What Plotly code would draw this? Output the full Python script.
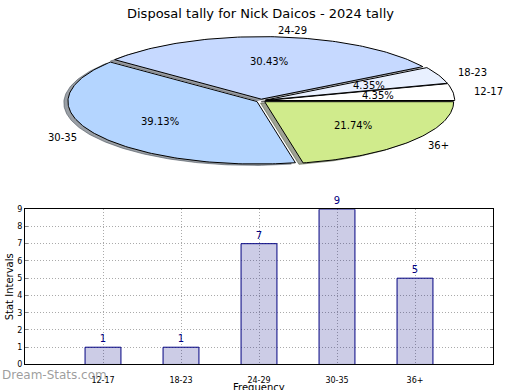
import numpy as np
import plotly.graph_objects as go

# ---- data ----
categories = ["12-17", "18-23", "24-29", "30-35", "36+"]
counts = [1, 1, 7, 9, 5]
title_text = "Disposal tally for Nick Daicos - 2024 tally"
y_title = "Stat Intervals"
x_title = "Frequency"
watermark = "Dream-Stats.com"

# ---- style ----
slice_colors = [(255, 255, 255), (232, 240, 255), (198, 217, 255), (180, 213, 255), (208, 235, 140)]
EXPLODE = 0.025
SHADOW_DX, SHADOW_DY = -0.022, -0.022
FONT = "DejaVu Sans"
W, H = 520, 390

fig = go.Figure()

total = float(sum(counts))
edges = np.cumsum([0] + counts) / total * 2 * np.pi
annotations = []
shadow_traces, wedge_traces = [], []
for i, (lab, v) in enumerate(zip(categories, counts)):
    t1, t2 = edges[i], edges[i + 1]
    m = 0.5 * (t1 + t2)
    cx, cy = EXPLODE * np.cos(m), EXPLODE * np.sin(m)
    n = max(int((t2 - t1) / (2 * np.pi) * 360), 12)
    t = np.linspace(t1, t2, n)
    xs = np.concatenate([[cx], cx + np.cos(t), [cx]])
    ys = np.concatenate([[cy], cy + np.sin(t), [cy]])
    r, g, b = slice_colors[i]
    sc = "rgba(%d,%d,%d,0.5)" % (int(0.3 * r), int(0.3 * g), int(0.3 * b))
    shadow_traces.append(go.Scatter(x=xs + SHADOW_DX, y=ys + SHADOW_DY, mode="lines", fill="toself",
                                    fillcolor=sc, line=dict(color=sc, width=1),
                                    hoverinfo="skip", showlegend=False, xaxis="x", yaxis="y"))
    wedge_traces.append(go.Scatter(x=xs, y=ys, mode="lines", fill="toself",
                                   fillcolor="rgb(%d,%d,%d)" % (r, g, b),
                                   line=dict(color="black", width=1),
                                   name=lab, showlegend=False, xaxis="x", yaxis="y"))
    annotations.append(dict(x=cx + 0.6 * np.cos(m), y=cy + 0.6 * np.sin(m), xref="x", yref="y",
                            text="%.2f%%" % (100 * v / total), showarrow=False,
                            font=dict(family=FONT, size=10, color="black"),
                            xanchor="center", yanchor="middle"))
    lx, ly = cx + 1.1 * np.cos(m), cy + 1.1 * np.sin(m)
    annotations.append(dict(x=lx, y=ly, xref="x", yref="y", text=lab, showarrow=False,
                            font=dict(family=FONT, size=10, color="black"),
                            xanchor="left" if lx > 0 else "right", yanchor="middle"))

for tr in shadow_traces + wedge_traces:
    fig.add_trace(tr)

# ---- bar chart ----
fig.add_trace(go.Bar(x=categories, y=counts, xaxis="x2", yaxis="y2", width=0.46,
                     marker=dict(color="rgba(0,0,128,0.2)", line=dict(color="#000080", width=1)),
                     text=[str(c) for c in counts], textposition="outside",
                     textfont=dict(family=FONT, size=10, color="#000080"),
                     cliponaxis=False, showlegend=False))

RX, RY = 189.0, 64.0
CX, CY = 261.0, 99.0
pie_top, pie_bot = 0.0, 195.0
bx0, bx1, by0, by1 = 25.0, 493.0, 210.0, 369.0

annotations += [
    dict(x=0.5, y=1 - 10 / H, xref="paper", yref="paper", text=title_text, showarrow=False,
         font=dict(family=FONT, size=13, color="black"), xanchor="center", yanchor="middle"),
    dict(x=9 / W, y=1 - 290 / H, xref="paper", yref="paper", text=y_title, showarrow=False,
         textangle=-90, font=dict(family=FONT, size=10, color="black"), xanchor="center", yanchor="middle"),
    dict(x=259 / W, y=1 - 385 / H, xref="paper", yref="paper", text=x_title, showarrow=False,
         font=dict(family=FONT, size=10, color="black"), xanchor="center", yanchor="top"),
    dict(x=0, y=1 - 380 / H, xref="paper", yref="paper", text=watermark, showarrow=False,
         font=dict(family=FONT, size=12, color="rgba(140,140,140,0.85)"), xanchor="left", yanchor="middle"),
]

GRID = dict(showgrid=True, gridcolor="#aaaaaa", griddash="1px,2px", gridwidth=1)

fig.update_layout(
    width=W, height=H, margin=dict(l=0, r=0, t=0, b=0),
    paper_bgcolor="white", plot_bgcolor="rgba(0,0,0,0)",
    font=dict(family=FONT, size=10, color="black"),
    xaxis=dict(domain=[0, 1], range=[-CX / RX, (W - CX) / RX], visible=False, fixedrange=True),
    yaxis=dict(domain=[1 - pie_bot / H, 1 - pie_top / H],
               range=[-(pie_bot - CY) / RY, (CY - pie_top) / RY], visible=False, fixedrange=True),
    xaxis2=dict(domain=[bx0 / W, bx1 / W], anchor="y2", type="category", range=[-1, 5],
                showline=True, mirror=True, linecolor="black", linewidth=1,
                ticks="", ticklabelstandoff=8,
                tickfont=dict(family=FONT, size=8, color="black"), zeroline=False, **GRID),
    yaxis2=dict(domain=[1 - by1 / H, 1 - by0 / H], anchor="x2", range=[0, 9], dtick=1,
                showline=True, mirror="ticks", linecolor="black", linewidth=1,
                ticks="inside", ticklen=3, tickcolor="#888",
                tickfont=dict(family=FONT, size=8, color="black"), zeroline=False, **GRID),
    annotations=annotations,
)

fig.write_html("out.html", config={"displayModeBar": False},
               post_script="document.body.style.margin='0';")
